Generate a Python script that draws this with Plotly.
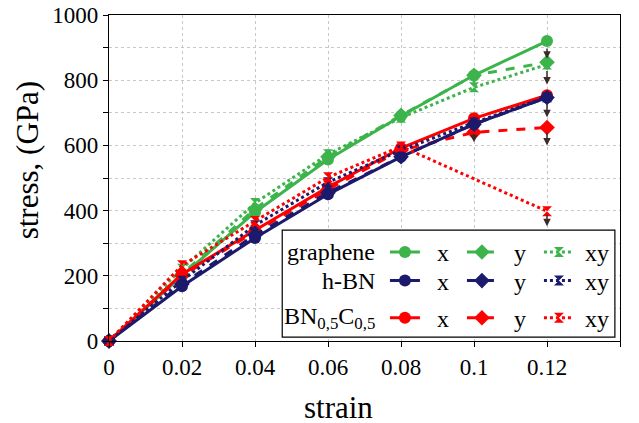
import plotly.graph_objects as go

# ---------------- data ----------------
strain = [0, 0.02, 0.04, 0.06, 0.08, 0.10, 0.12]

graphene_x = [0, 200, 395, 557, 690, 815, 920]
graphene_y = [0, 205, 405, 565, 692, 815, 855]
graphene_xy = [0, 222, 423, 573, 685, 778, 848]

hbn_x = [0, 168, 316, 450, 565, 665, 747]
hbn_y = [0, 175, 325, 455, 565, 665, 747]
hbn_xy = [0, 185, 355, 487, 585, 670, 748]

bnc_x = [0, 205, 340, 472, 592, 683, 754]
bnc_y = [0, 200, 335, 465, 585, 640, 655]
bnc_xy = [0, 232, 368, 502, 597, None, 398]

# failure arrows (strain, stress start, stress end)
arrow_strain = [0.12, 0.12, 0.12, 0.12, 0.12, 0.10]
arrow_from = [902, 833, 732, 643, 392, 640]
arrow_to = [866, 787, 686, 600, 352, 610]

x_tickvals = [0, 0.02, 0.04, 0.06, 0.08, 0.10, 0.12, 0.14]
x_ticktext = ["0", "0.02", "0.04", "0.06", "0.08", "0.1", "0.12", ""]
y_tickvals = [0, 100, 200, 300, 400, 500, 600, 700, 800, 900, 1000]
y_ticktext = ["0", "", "200", "", "400", "", "600", "", "800", "", "1000"]

row_labels = ["graphene", "h-BN", "BN<sub>0,5</sub>C<sub>0,5</sub>"]
col_labels = ["\u00a0\u00a0x", "\u00a0\u00a0y", "\u00a0xy"]

GREEN = "#3cb44b"
NAVY = "#1c1a6c"
RED = "#ff0000"
FONT = "Times New Roman, Liberation Serif, serif"

fig = go.Figure()

def add(yvals, color, dash, symbol, msize, legend, name):
    fig.add_trace(go.Scatter(
        x=strain, y=yvals, mode="lines+markers", name=name,
        line=dict(color=color, width=3, dash=dash),
        marker=dict(symbol=symbol, size=msize, color=color),
        connectgaps=True, cliponaxis=False, legend=legend,
    ))

add(graphene_x, GREEN, "solid", "circle", 12, "legend", col_labels[0])
add(graphene_y, GREEN, "dash", "diamond", 12, "legend", col_labels[1])
add(graphene_xy, GREEN, "dot", "hourglass", 10, "legend", col_labels[2])
add(bnc_x, RED, "solid", "circle", 12, "legend3", col_labels[0])
add(bnc_y, RED, "dash", "diamond", 12, "legend3", col_labels[1])
add(hbn_x, NAVY, "solid", "circle", 12, "legend2", col_labels[0])
add(hbn_y, NAVY, "dash", "diamond", 12, "legend2", col_labels[1])
add(hbn_xy, NAVY, "dot", "hourglass", 10, "legend2", col_labels[2])
add(bnc_xy, RED, "dot", "hourglass", 10, "legend3", col_labels[2])

for sx, a, b in zip(arrow_strain, arrow_from, arrow_to):
    fig.add_annotation(x=sx, y=b, ax=sx, ay=a, xref="x", yref="y",
                       axref="x", ayref="y", showarrow=True, text="",
                       arrowhead=2, arrowsize=1, arrowwidth=1.5,
                       arrowcolor="#3a2a2a")

# legend frame
fig.add_shape(type="rect", xref="paper", yref="paper",
              x0=0.339, x1=0.990, y0=0.012, y1=0.340,
              line=dict(color="black", width=1.2), fillcolor="white",
              layer="above")

row_y = [0.272, 0.184, 0.070]
for lab, ry in zip(row_labels, row_y):
    fig.add_annotation(x=0.525, y=ry, xref="paper", yref="paper",
                       text=lab, showarrow=False, xanchor="right",
                       yanchor="middle",
                       font=dict(family=FONT, size=24, color="black"))

leg_common = dict(orientation="h", xanchor="left", yanchor="middle",
                  bgcolor="rgba(0,0,0,0)", borderwidth=0,
                  font=dict(family=FONT, size=24, color="black"),
                  entrywidth=32, entrywidthmode="pixels",
                  tracegroupgap=0, itemclick=False)

# page body has an 8px default margin: the figure is sized to compensate
fig.update_layout(
    width=631, height=415,
    margin=dict(l=100.5, r=19, t=7, b=82, autoexpand=False),
    paper_bgcolor="white", plot_bgcolor="white",
    font=dict(family=FONT, size=23, color="black"),
    showlegend=True,
    legend=dict(x=0.54, y=row_y[0], **leg_common),
    legend2=dict(x=0.54, y=row_y[1], **leg_common),
    legend3=dict(x=0.54, y=row_y[2], **leg_common),
    xaxis=dict(range=[0, 0.14], tickvals=x_tickvals, ticktext=x_ticktext,
               showgrid=True, gridcolor="#c8c8c8", griddash="dot",
               gridwidth=1, zeroline=False, showline=True, linecolor="black",
               linewidth=1.2, mirror=True, ticks="outside", ticklen=5,
               tickcolor="black", automargin=False, ticklabeloverflow="allow",
               tickfont=dict(family=FONT, size=23)),
    yaxis=dict(range=[0, 1000], tickvals=y_tickvals, ticktext=y_ticktext,
               showgrid=True, gridcolor="#c8c8c8", griddash="dot",
               gridwidth=1, zeroline=False, showline=True, linecolor="black",
               linewidth=1.2, mirror=True, ticks="outside", ticklen=5,
               tickcolor="black", automargin=False, ticklabeloverflow="allow",
               tickfont=dict(family=FONT, size=23)),
)

fig.add_annotation(x=0.45, y=-0.205, xref="paper", yref="paper",
                   text="strain", showarrow=False, xanchor="center",
                   yanchor="middle",
                   font=dict(family=FONT, size=31, color="black"))
fig.add_annotation(x=-0.16, y=0.555, xref="paper", yref="paper",
                   text="stress, (GPa)", textangle=-90, showarrow=False,
                   xanchor="center", yanchor="middle",
                   font=dict(family=FONT, size=31, color="black"))

fig.write_html("out.html")
